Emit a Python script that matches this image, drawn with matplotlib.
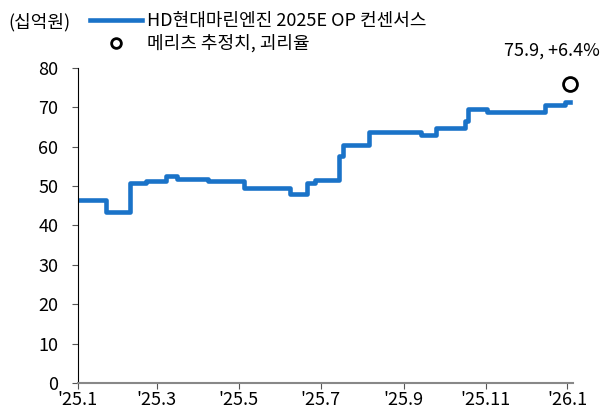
import numpy as np
import pandas as pd
import matplotlib
matplotlib.use("Agg")
import matplotlib.pyplot as plt
from matplotlib.lines import Line2D

plt.rcParams['font.family'] = ['Noto Sans CJK KR', 'DejaVu Sans']

# consensus OP steps (billion KRW)
dates = ['2025-01-01', '2025-01-22', '2025-02-09', '2025-02-21', '2025-03-08',
         '2025-03-16', '2025-04-08', '2025-05-05', '2025-06-08', '2025-06-21',
         '2025-06-27', '2025-07-15', '2025-07-18', '2025-08-06', '2025-09-14',
         '2025-09-25', '2025-10-17', '2025-10-19', '2025-11-02', '2025-12-15',
         '2025-12-30', '2026-01-03']
values = [46.4, 43.4, 50.8, 51.4, 52.6, 51.7, 51.2, 49.5, 48.0, 50.8,
          51.5, 57.6, 60.4, 63.7, 62.9, 64.7, 66.5, 69.5, 68.9, 70.7,
          71.4, 71.4]
est_date = '2026-01-03'
est_value = 75.9
est_label = '75.9, +6.4%'
tick_dates = ['2025-01-01', '2025-03-01', '2025-05-01', '2025-07-01',
              '2025-09-01', '2025-11-01', '2026-01-01']
tick_labels = ["'25.1", "'25.3", "'25.5", "'25.7", "'25.9", "'25.11", "'26.1"]

blue = '#1a73c8'
fs = 13

fig = plt.figure(figsize=(6.12, 4.19), dpi=100)
ax = fig.add_axes([0.127, 0.086, 0.809, 0.752])

x = pd.to_datetime(dates)
ax.plot(x, values, color=blue, lw=3.3, drawstyle='steps-post')
ax.plot(pd.to_datetime([est_date]), [est_value], 'o', ms=10, mfc='white',
        mec='black', mew=2, clip_on=False)

ax.set_ylim(0, 80)
ax.set_yticks(np.arange(0, 81, 10))
ax.set_xlim(pd.Timestamp('2025-01-01'), pd.Timestamp('2026-01-05'))
ax.set_xticks(pd.to_datetime(tick_dates))
ax.set_xticklabels(tick_labels)

for s in ['top', 'right']:
    ax.spines[s].set_visible(False)
ax.spines['left'].set_color('black')
ax.spines['bottom'].set_color('#888888')
ax.spines['bottom'].set_linewidth(1.5)
ax.tick_params(axis='y', colors='#555555', labelcolor='black', labelsize=fs, length=4, pad=10)
ax.tick_params(axis='x', colors='#555555', labelcolor='black', labelsize=fs, length=4, pad=2)

fig.text(0.013, 0.947, '(십억원)', fontsize=fs, va='center')

handles = [Line2D([], [], color=blue, lw=3.3),
           Line2D([], [], marker='o', ls='none', mfc='white', mec='black', mew=2, ms=7)]
fig.legend(handles, ['HD현대마린엔진 2025E OP 컨센서스', '메리츠 추정치, 괴리율'],
           loc='upper left', bbox_to_anchor=(0.12, 1.01), frameon=False,
           fontsize=fs, handlelength=2.9, handletextpad=0.25, labelspacing=0.25)

fig.text(0.98, 0.88, est_label, fontsize=fs, ha='right', va='center')

fig.savefig('out.png', dpi=100)
